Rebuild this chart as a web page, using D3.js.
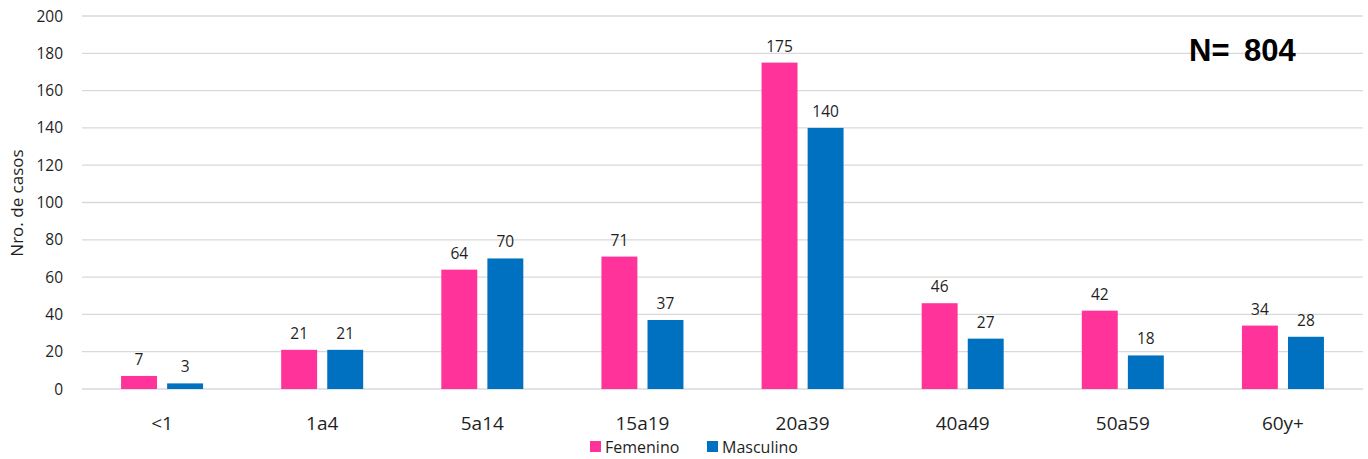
<!DOCTYPE html>
<html><head><meta charset="utf-8">
<script src="https://cdn.jsdelivr.net/npm/d3@7"></script>
<style>body{margin:0;background:#fff}svg{display:block}text{font-family:"Open Sans","Noto Sans",sans-serif;fill:#1f1f1f}</style>
</head><body><svg id="c" width="1368" height="459"></svg>
<script>
const categories=["<1","1a4","5a14","15a19","20a39","40a49","50a59","60y+"];
const femenino=[7,21,64,71,175,46,42,34];
const masculino=[3,21,70,37,140,27,18,28];
const seriesNames=["Femenino","Masculino"];
const colors=["#FF3399","#0070C0"];
const yTicks=[0,20,40,60,80,100,120,140,160,180,200];

const svg=d3.select("#c");
const x=d3.scaleBand().domain(categories).range([82,1363]);
const y=d3.scaleLinear().domain([0,200]).range([389,16]);
const inner=d3.scaleBand().domain(seriesNames).range([-41,41]).paddingInner(0.22);

svg.append("g").selectAll("line").data(yTicks).join("line")
 .attr("x1",82).attr("x2",1363).attr("y1",d=>y(d)).attr("y2",d=>y(d))
 .attr("stroke","#d9d9d9").attr("stroke-width",1.3);
svg.append("g").selectAll("text").data(yTicks).join("text")
 .attr("x",63).attr("y",d=>y(d)+5.5).attr("text-anchor","end").attr("font-size",15.5).text(d=>d);

svg.append("text").attr("transform","translate(23,203) rotate(-90)").attr("text-anchor","middle")
 .attr("font-size",17).text("Nro. de casos");

const data=[femenino,masculino];
data.forEach((vals,si)=>{
  const g=svg.append("g");
  g.selectAll("rect").data(vals).join("rect")
   .attr("x",(d,i)=>x(categories[i])+x.bandwidth()/2+inner(seriesNames[si]))
   .attr("width",inner.bandwidth())
   .attr("y",d=>y(d)).attr("height",d=>y(0)-y(d))
   .attr("fill",colors[si]);
  g.selectAll("text").data(vals).join("text")
   .attr("x",(d,i)=>x(categories[i])+x.bandwidth()/2+inner(seriesNames[si])+inner.bandwidth()/2)
   .attr("y",d=>y(d)-11).attr("text-anchor","middle").attr("font-size",15.5).text(d=>d);
});

svg.append("g").selectAll("text").data(categories).join("text")
 .attr("x",d=>x(d)+x.bandwidth()/2).attr("y",430).attr("text-anchor","middle")
 .attr("font-size",19).text(d=>d);

const leg=[{n:"Femenino",x:590},{n:"Masculino",x:707}];
leg.forEach((l,i)=>{
  svg.append("rect").attr("x",l.x).attr("y",441).attr("width",11).attr("height",11).attr("fill",colors[i]);
  svg.append("text").attr("x",l.x+15).attr("y",453).attr("font-size",16).text(l.n);
});

svg.append("text").attr("x",1189).attr("y",61)
 .style("font-family","'Liberation Sans',Arial,sans-serif").style("word-spacing","6px")
 .attr("font-weight","bold").attr("font-size",31).style("fill","#000").text("N= 804");
</script></body></html>
